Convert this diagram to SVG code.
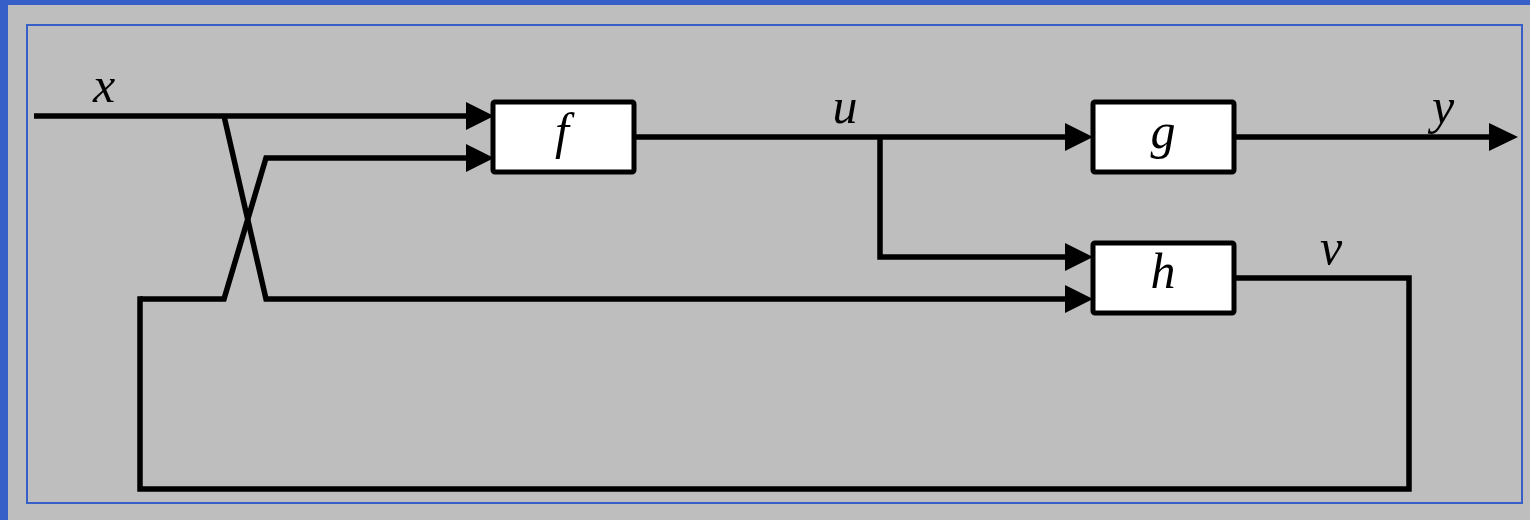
<svg xmlns="http://www.w3.org/2000/svg" width="1530" height="520" viewBox="0 0 1530 520">
<style>
.ln{fill:none;stroke:#000;stroke-width:5.5;stroke-linejoin:miter}
.box{fill:#fff;stroke:#000;stroke-width:5}
.ah{fill:#000}
.lbl{font-family:"Liberation Serif","DejaVu Serif",serif;font-style:italic;font-size:50px;fill:#000;text-anchor:middle}
</style>
<rect x="0" y="0" width="1530" height="520" fill="#bebebe"/>
<rect x="0" y="0" width="1530" height="5" fill="#3660c8"/>
<rect x="0" y="0" width="8" height="520" fill="#3660c8"/>
<rect x="27" y="25" width="1495" height="478" fill="none" stroke="#3660c8" stroke-width="2"/>
<g id="connectors">
<path class="ln" d="M34,116 H470"/>
<path class="ln" d="M224,116 L266,299 H1070"/>
<path class="ln" d="M140,299 H224 L266,158 H470"/>
<path class="ln" d="M634,137 H1070"/>
<path class="ln" d="M880,137 V257 H1070"/>
<path class="ln" d="M1234,137 H1494"/>
<path class="ln" d="M1234,278 H1409 V489 H140 V296.25"/>
<polygon class="ah" points="466,102 494,116 466,130"/>
<polygon class="ah" points="466,144 494,158 466,172"/>
<polygon class="ah" points="1065,123 1093,137 1065,151"/>
<polygon class="ah" points="1065,243 1093,257 1065,271"/>
<polygon class="ah" points="1065,285 1093,299 1065,313"/>
<polygon class="ah" points="1489,123 1518,137 1489,151"/>
</g>
<g id="node-f">
<rect class="box" x="493" y="102" width="141" height="70" rx="2"/>
<text class="lbl" x="562" y="148">f</text>
</g>
<g id="node-g">
<rect class="box" x="1093" y="102" width="141" height="70" rx="2"/>
<text class="lbl" x="1163" y="148">g</text>
</g>
<g id="node-h">
<rect class="box" x="1093" y="243" width="141" height="70" rx="2"/>
<text class="lbl" x="1163" y="288">h</text>
</g>
<g id="labels">
<text class="lbl" x="104" y="102">x</text>
<text class="lbl" x="845" y="123">u</text>
<text class="lbl" x="1443" y="123">y</text>
<text class="lbl" x="1331" y="264">v</text>
</g>
</svg>
